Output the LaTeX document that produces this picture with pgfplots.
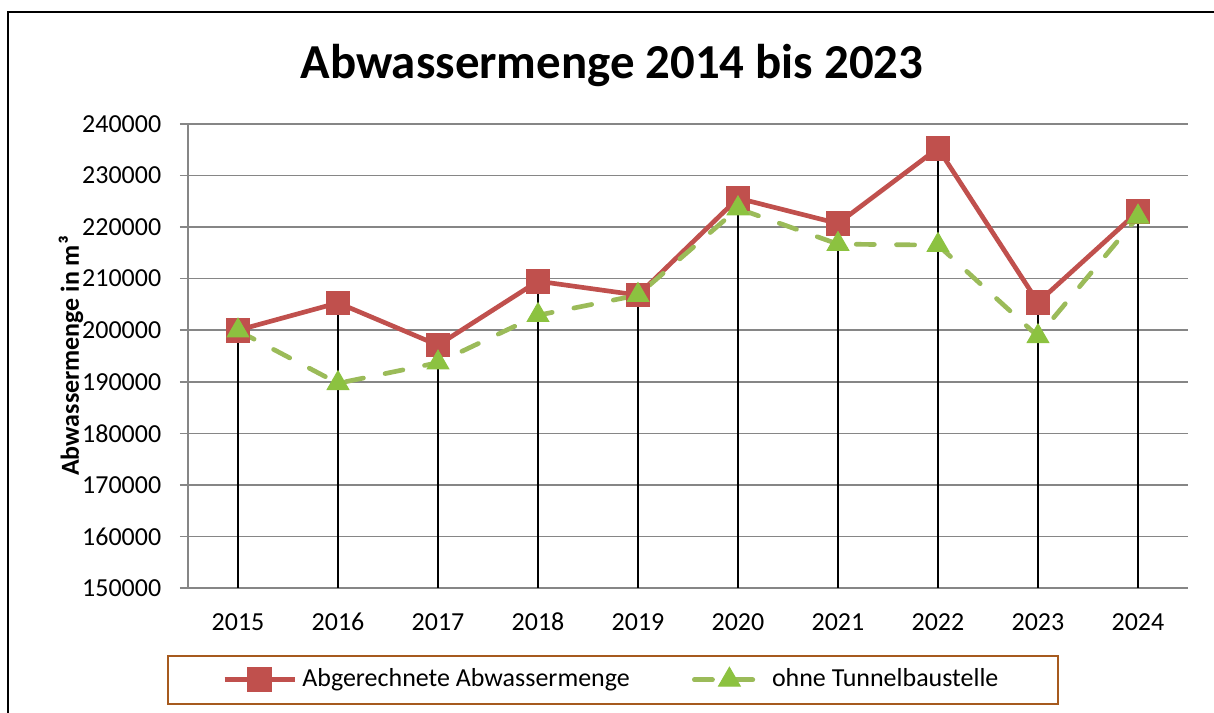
\documentclass[border=0pt]{standalone}
\usepackage{fontspec}
\setmainfont{Carlito}
\usepackage{pgfplots}
\pgfplotsset{compat=1.18}
\definecolor{cred}{HTML}{C0504D}
\definecolor{cgreen}{HTML}{9BBB59}
\definecolor{ctri}{HTML}{8CC240}
\definecolor{cgrid}{HTML}{868686}
\definecolor{cbrown}{HTML}{A65A1E}
\begin{document}
\begin{tikzpicture}
\path[use as bounding box] (0,0) rectangle (467.4pt,274.5pt);
\draw[black, line width=0.75pt] (3.08pt,0) -- (3.08pt,269.9pt) -- (467.4pt,269.9pt);
\node[font=\fontsize{18.8}{22}\selectfont\bfseries, anchor=base] at (235.6pt,244.3pt) {Abwassermenge 2014 bis 2023};
\begin{axis}[
  at={(72.38pt,48.125pt)}, anchor=south west,
  scale only axis, width=385pt, height=178.64pt,
  xmin=-0.5, xmax=9.5, ymin=150000, ymax=240000,
  xtick={0,1,2,3,4,5,6,7,8,9},
  xticklabels={2015,2016,2017,2018,2019,2020,2021,2022,2023,2024},
  ytick={150000,160000,170000,180000,190000,200000,210000,220000,230000,240000},
  scaled y ticks=false,
  yticklabel style={/pgf/number format/fixed, /pgf/number format/1000 sep={}, xshift=-3.7pt},
  xticklabel style={yshift=-3.3pt, text height=6.5pt, text depth=0pt},
  /pgf/number format/assume math mode=true,
  tick label style={font=\fontsize{10}{12}\selectfont},
  ymajorgrids, grid style={cgrid, line width=0.6pt},
  axis x line=bottom, axis y line=left,
  axis line style={-, cgrid, line width=0.6pt},
  every outer x axis line/.append style={-},
  every outer y axis line/.append style={-},
  tick align=outside, major tick length=3.08pt,
  xtick style={draw=none},
  ytick style={cgrid, line width=0.6pt},
  ylabel={Abwassermenge in m³},
  ylabel style={at={(axis description cs:-0.117,0.5)}, anchor=center, font=\fontsize{10}{12}\selectfont\bfseries},
  legend columns=2,
  legend cell align=left,
  legend style={at={(axis description cs:0.425,-0.198)}, anchor=center, draw=cbrown, line width=0.75pt,
    inner xsep=21pt, inner ysep=3pt, font=\fontsize{10}{12}\selectfont,
    /tikz/every even column/.append style={column sep=22pt}},
  legend image code/.code={\draw[mark repeat=2,mark phase=2,#1] plot coordinates {(0pt,0pt) (13.5pt,0pt) (27pt,0pt)};},
]
\addplot[cred, line width=1.8pt, mark=square*, mark size=3.85pt, mark options={solid}]
  coordinates {(0,200000) (1,205300) (2,197100) (3,209500) (4,206800) (5,225600) (6,220700) (7,235300) (8,205400) (9,223000)};
\addlegendentry{Abgerechnete Abwassermenge}
\addplot[cgreen, line width=1.8pt, dash pattern=on 7pt off 8.5pt, line cap=round, mark=triangle*, mark size=4.8pt, mark options={solid, draw=ctri, fill=ctri, line width=0.4pt}]
  coordinates {(0,199900) (1,189700) (2,193700) (3,202900) (4,206800) (5,223600) (6,216700) (7,216500) (8,198800) (9,222000)};
\addlegendentry{ohne Tunnelbaustelle}
\addplot[ycomb, black, line width=0.7pt, forget plot]
  coordinates {(0,200000) (1,205300) (2,197100) (3,209500) (4,206800) (5,225600) (6,220700) (7,235300) (8,205400) (9,223000)};
\end{axis}
\end{tikzpicture}
\end{document}
